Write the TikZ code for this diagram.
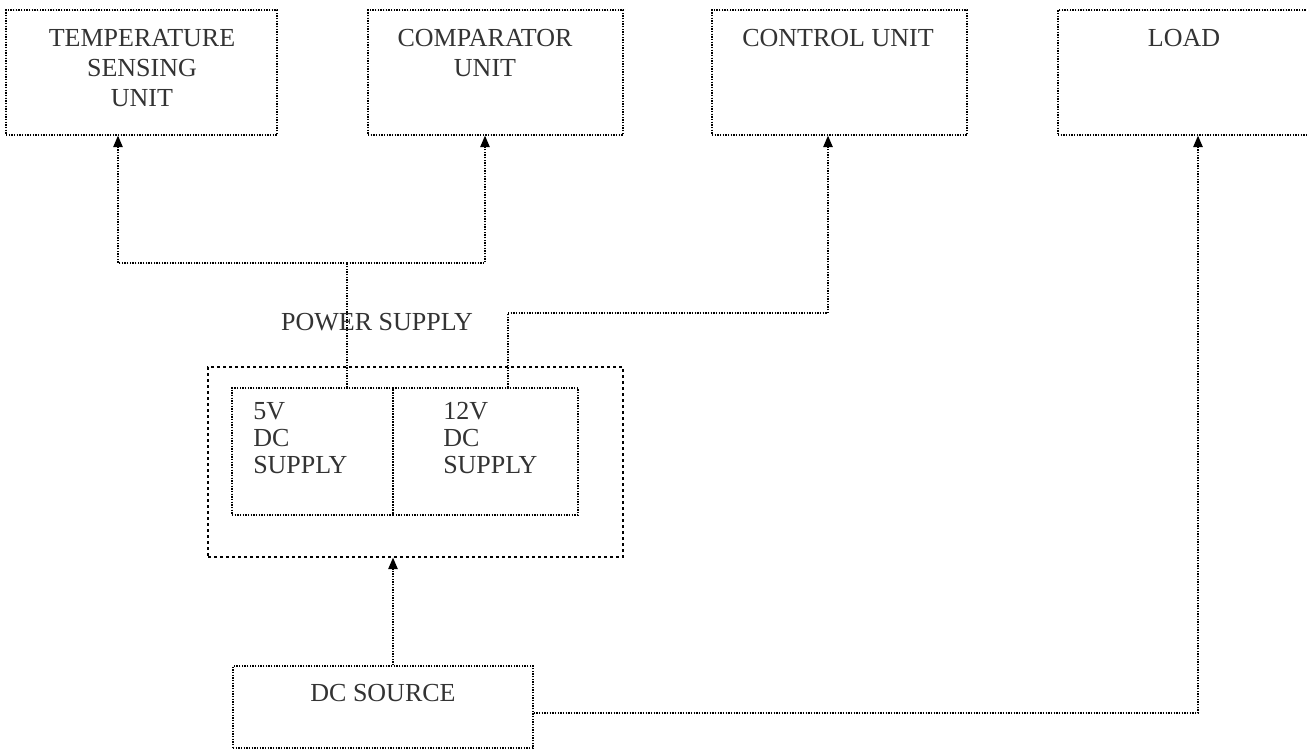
\documentclass[tikz,border=0pt]{standalone}
\usepackage{fontspec}
\setmainfont{Liberation Serif}
\usetikzlibrary{arrows.meta}
\begin{document}
\begin{tikzpicture}[x=0.75pt,y=-0.75pt,
  box/.style={draw, densely dotted, line width=1pt, inner sep=0pt},
  psbox/.style={draw, dash pattern=on 2pt off 2.5pt, line width=1pt, inner sep=0pt},
  wire/.style={densely dotted, line width=1pt},
  arr/.style={densely dotted, line width=1pt, -{Triangle[length=8.5pt,width=7pt]}},
  txt/.style={font=\fontsize{19.5}{22.5}\selectfont, inner sep=0pt, text=black!80},
  txtp/.style={font=\fontsize{19.5}{20.25}\selectfont, inner sep=0pt, text=black!80}]
\useasboundingbox[fill=white] (0,0) rectangle (1307,751);
% boxes
\node[box, minimum width=203.25pt, minimum height=93.75pt] (temp) at (141.5,72.5) {};
\node[box, minimum width=191.25pt, minimum height=93.75pt] (comp) at (495.5,72.5) {};
\node[box, minimum width=191.25pt, minimum height=93.75pt] (ctrl) at (839.5,72.5) {};
\node[box, minimum width=189pt, minimum height=93.75pt] (load) at (1184,72.5) {};
\node[psbox, minimum width=311.25pt, minimum height=142.5pt] (ps) at (415.5,462) {};
\node[box, minimum width=120.75pt, minimum height=95.25pt] (p5) at (312.5,451.5) {};
\node[box, minimum width=138.75pt, minimum height=95.25pt] (p12) at (485.5,451.5) {};
\node[box, minimum width=225pt, minimum height=61.5pt] (dc) at (383,707) {};
% texts
\node[txt, align=center] (ttemp) at (142,68) {TEMPERATURE\\SENSING\\UNIT};
\node[txt, align=center] (tcomp) at (485,53) {COMPARATOR\\UNIT};
\node[txt] (tctrl) at (838,38) {CONTROL UNIT};
\node[txt] (tload) at (1184,38) {LOAD};
\node[txt] (tps) at (377,322) {POWER SUPPLY};
\node[txtp, align=left, anchor=west] (t5) at (253,438) {5V\\DC\\SUPPLY};
\node[txtp, align=left, anchor=west] (t12) at (443,438) {12V\\DC\\SUPPLY};
\node[txt] (tdc) at (383,693) {DC SOURCE};
% connectors
\coordinate (j1) at (347,263);
\coordinate (j2) at (508,313);
\draw[wire] (j1 |- p5.north) -- (j1);
\draw[arr] (j1) -| (118,0 |- temp.south);
\draw[arr] (j1) -| (485,0 |- comp.south);
\draw[wire] (j2 |- p12.north) -- (j2);
\draw[arr] (j2) -| (828,0 |- ctrl.south);
\draw[arr] (393,0 |- dc.north) -- (393,0 |- ps.south);
\draw[arr] (dc.east |- 0,713) -| (1198,0 |- load.south);
\end{tikzpicture}
\end{document}
